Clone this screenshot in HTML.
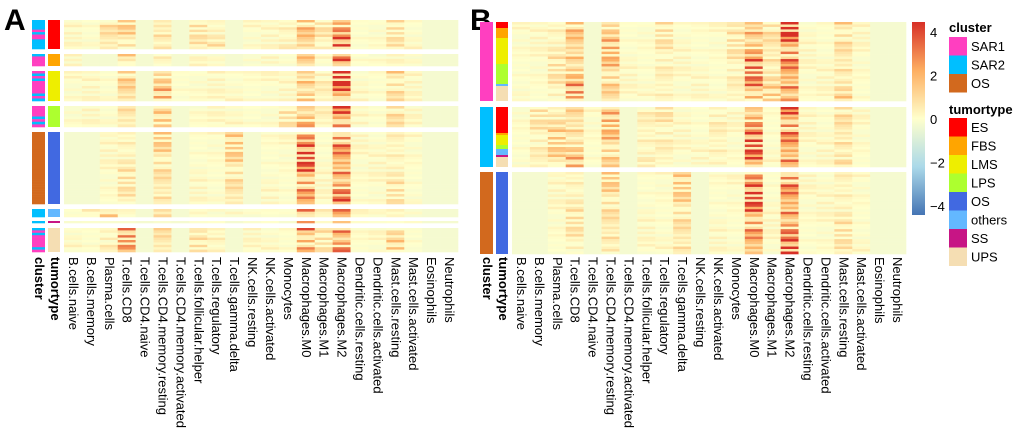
<!DOCTYPE html>
<html><head><meta charset="utf-8"><style>
body{margin:0;background:#fff;}
svg text{font-family:"Liberation Sans",sans-serif;}
</style></head><body>
<svg id="fig" width="1020" height="432" xmlns="http://www.w3.org/2000/svg">
<text x="4" y="30" font-size="30" font-weight="bold">A</text>
<text x="470" y="30" font-size="30" font-weight="bold">B</text>
<g id="gA"></g>
<g id="gB"></g>
<g id="leg"></g>
</svg>
<script>
const cellTypes=["B.cells.naive","B.cells.memory","Plasma.cells","T.cells.CD8","T.cells.CD4.naive","T.cells.CD4.memory.resting","T.cells.CD4.memory.activated","T.cells.follicular.helper","T.cells.regulatory","T.cells.gamma.delta","NK.cells.resting","NK.cells.activated","Monocytes","Macrophages.M0","Macrophages.M1","Macrophages.M2","Dendritic.cells.resting","Dendritic.cells.activated","Mast.cells.resting","Mast.cells.activated","Eosinophils","Neutrophils"];
// panel A groups: tumortype, y range, column intensity levels (0-9)
const groupsA_type=["ES","FBS","LMS","LPS","OS","others","SS","UPS"];
const groupsA_top=[20,54,71,106,132,209,221,228];
const groupsA_bot=[49,66,101,127,204,217,223,252];
const levelsA=[
[1,1,3,3,0,3,0,2,2,0,1,1,2,5,2,7,1,1,2,1,0,0],
[1,0,0,3,0,2,0,1,1,0,1,1,1,5,1,8,1,1,1,1,0,0],
[1,1,1,4,0,4,1,1,1,1,1,1,1,5,2,8,1,1,3,1,0,0],
[1,1,1,3,0,3,0,1,1,1,1,1,2,6,2,8,1,1,3,1,0,0],
[0,0,1,2,0,3,0,1,1,3,0,1,1,7,1,8,1,1,2,1,0,0],
[1,3,3,2,0,2,0,2,1,1,1,1,1,5,2,7,1,1,2,1,0,0],
[1,1,1,2,0,1,0,1,1,0,1,1,1,5,1,7,1,1,1,1,0,0],
[1,1,2,5,0,3,0,2,2,0,1,1,1,6,2,8,1,1,3,1,0,0]];
const clusterA=["SAR2","SAR1","SAR1","SAR1","OS","SAR2","SAR2","SAR1"];
// panel B groups by cluster
const groupsB_cluster=["SAR1","SAR2","OS"];
const groupsB_top=[22,107,172];
const groupsB_bot=[101,167,254];
const levelsB=[
[1,1,2,5,0,4,1,1,2,1,1,1,2,6,3,8,1,1,3,1,0,0],
[1,2,3,4,1,4,0,2,2,1,1,2,1,7,1,8,1,1,3,1,0,0],
[0,0,1,2,0,3,0,1,1,3,0,1,1,7,1,8,1,1,2,1,0,0]];
// tumortype segments in B: [type, top, bottom]
const typesB=[[["ES",22,28],["FBS",28,38],["LMS",38,64],["LPS",64,84],["others",84,86],["UPS",86,101]],
[["ES",107,133],["FBS",133,135],["LMS",135,145],["LPS",145,149],["others",149,155],["SS",155,157],["UPS",157,167]],
[["OS",172,254]]];
const rowWeight=[0.3,0.9,0.2,0.5,1.3,0.4,0.1,0.8,0.6,1.1,0.2,0.4,0.7,0.3,1.4,0.5,0.2,0.9,0.6,0.1,1.0,0.4,0.3,1.2,0.5,0.2,0.8,0.7,0.3,0.6,1.1,0.4,0.2,0.9,0.5,1.3,0.3,0.6,0.2,0.8];
const ticks=[4,2,0,-2,-4];
const clusterNames=["SAR1","SAR2","OS"];
const typeNames=["ES","FBS","LMS","LPS","OS","others","SS","UPS"];
const clusterCol={SAR1:"#FF3FC0",SAR2:"#00BFFF",OS:"#D2691E"};
const typeCol={ES:"#FF0000",FBS:"#FFA500",LMS:"#EEEE00",LPS:"#ADFF2F",OS:"#4169E1",others:"#63B8FF",SS:"#C71585",UPS:"#F5DEB3"};
const NS="http://www.w3.org/2000/svg";
function mk(p,tag,at){const e=document.createElementNS(NS,tag);for(const k in at)e.setAttribute(k,at[k]);p.appendChild(e);return e;}
function lerp(a,b,t){return a.map((v,i)=>Math.round(v+(b[i]-v)*t));}
const stops=[[-4,[69,117,180]],[-2,[171,217,233]],[0,[255,255,204]],[2,[253,174,97]],[4,[215,48,39]]];
function color(v){v=Math.max(-4,Math.min(4,v));for(let i=0;i<4;i++){if(v<=stops[i+1][0]){const c=lerp(stops[i][1],stops[i+1][1],(v-stops[i][0])/2);return `rgb(${c})`;}}return "rgb(215,48,39)";}
function val(level,r,c){const w=rowWeight[(r*7+c*3)%rowWeight.length];return -0.25+level*0.5*w;}
const rowH=2.5;
function drawGroup(g,x0,x1,top,bot,lev,gi){
  const cw=(x1-x0)/cellTypes.length;const n=Math.max(1,Math.round((bot-top)/rowH));const h=(bot-top)/n;
  for(let c=0;c<cellTypes.length;c++)for(let r=0;r<n;r++){
    const e=mk(g,"rect",{x:x0+c*cw,y:top+r*h,width:cw+0.3,height:h+0.3,fill:color(val(lev[c],r+gi*5,c))});
    
    
  }
}
function labels(g,x0,x1,cx,tx){
  const cw=(x1-x0)/cellTypes.length;
  cellTypes.forEach((t,i)=>{const x=x0+(i+0.5)*cw-4;const e=mk(g,"text",{transform:`translate(${x},257) rotate(90)`,"font-size":"13"});e.textContent=t;
    });
  const a=mk(g,"text",{transform:`translate(${cx},257) rotate(90)`,"font-size":"13","font-weight":"bold"});a.textContent="cluster";
  
  const b=mk(g,"text",{transform:`translate(${tx},257) rotate(90)`,"font-size":"13","font-weight":"bold"});b.textContent="tumortype";
  
}
// Panel A
const gA=document.getElementById("gA");
groupsA_type.forEach((t,i)=>{
  const top=groupsA_top[i],bot=groupsA_bot[i];
  const n=Math.max(1,Math.round((bot-top)/rowH)),h=(bot-top)/n;
  for(let r=0;r<n;r++){const alt=(rowWeight[(r*5+i)%rowWeight.length]>0.7)?(clusterA[i]=="SAR1"?"SAR2":"SAR1"):clusterA[i];
    const e=mk(gA,"rect",{x:32,y:top+r*h,width:13,height:h+0.3,fill:clusterCol[clusterA[i]=="OS"?"OS":alt]});
    }
  const e=mk(gA,"rect",{x:48,y:top,width:12,height:bot-top,fill:typeCol[t]});
  
  drawGroup(gA,64,458,top,bot,levelsA[i],i);
});
labels(gA,64,458,35,51);
// Panel B
const gB=document.getElementById("gB");
groupsB_cluster.forEach((cl,i)=>{
  const top=groupsB_top[i],bot=groupsB_bot[i];
  const e=mk(gB,"rect",{x:480,y:top,width:13,height:bot-top,fill:clusterCol[cl]});
  
  typesB[i].forEach(s=>{const f=mk(gB,"rect",{x:496,y:s[1],width:12,height:s[2]-s[1],fill:typeCol[s[0]]});
    });
  drawGroup(gB,512,906,top,bot,levelsB[i],i+2);
});
labels(gB,512,906,483,499);
// Legend
const L=document.getElementById("leg");
const grad=mk(L,"defs",{});const lg=mk(grad,"linearGradient",{id:"cg",x1:0,y1:0,x2:0,y2:1});
[[0,"#D73027"],[0.25,"#FDAE61"],[0.5,"#FFFFCC"],[0.75,"#ABD9E9"],[1,"#4575B4"]].forEach(s=>mk(lg,"stop",{offset:s[0],"stop-color":s[1]}));
const cb=mk(L,"rect",{x:912,y:22,width:13,height:193,fill:"url(#cg)"});

function yScale(v){return 32+(4-v)*(206-32)/8;}
ticks.forEach(t=>{const e=mk(L,"text",{x:930,y:yScale(t)+5,"font-size":"13"});e.textContent=t<0?"\u2212"+(-t):String(t);
  });
const ct=mk(L,"text",{x:949,y:32,"font-size":"13","font-weight":"bold"});ct.textContent="cluster";

clusterNames.forEach((c,i)=>{const y=37+i*18.5;const r=mk(L,"rect",{x:949,y:y,width:18,height:18.5,fill:clusterCol[c]});
  
  const t=mk(L,"text",{x:971,y:y+14,"font-size":"13"});t.textContent=c;
  });
const tt=mk(L,"text",{x:949,y:114,"font-size":"13","font-weight":"bold"});tt.textContent="tumortype";

typeNames.forEach((c,i)=>{const y=118+i*18.5;const r=mk(L,"rect",{x:949,y:y,width:18,height:18.5,fill:typeCol[c]});
  
  const t=mk(L,"text",{x:971,y:y+14,"font-size":"13"});t.textContent=c;
  });
</script>
</body></html>
